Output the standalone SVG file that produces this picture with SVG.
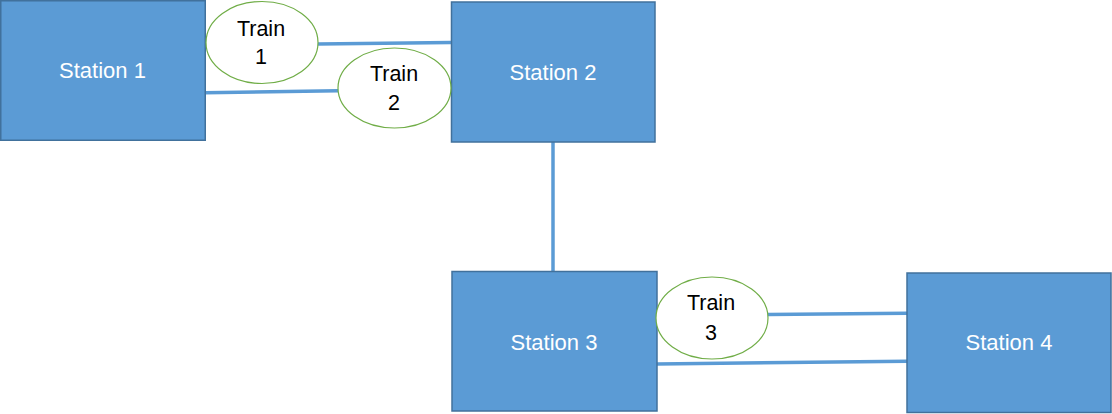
<svg xmlns="http://www.w3.org/2000/svg" width="1112" height="414" viewBox="0 0 1112 414">
  <style>
    .station rect { fill: #5b9bd5; stroke: #41719c; stroke-width: 1.5; }
    .station text { fill: #ffffff; font-family: "Liberation Sans", Arial, sans-serif; font-size: 22px; text-anchor: middle; }
    .train ellipse { fill: #ffffff; stroke: #70ad47; stroke-width: 1.2; }
    .train text { fill: #000000; font-family: "Liberation Sans", Arial, sans-serif; font-size: 21.5px; text-anchor: middle; }
    .track { stroke: #5b9bd5; stroke-width: 3.5; fill: none; }
  </style>

  <!-- tracks between stations -->
  <g id="connectors">
    <line class="track" x1="318" y1="44" x2="451" y2="42.5"/>
    <line class="track" x1="205" y1="92.7" x2="338" y2="90.7"/>
    <line class="track" x1="553" y1="142" x2="553" y2="271"/>
    <line class="track" x1="768" y1="314.5" x2="907" y2="313.3"/>
    <line class="track" x1="657" y1="364" x2="907" y2="361.3"/>
  </g>

  <g id="station1" class="station">
    <rect x="0.75" y="0.75" width="204.5" height="139.5"/>
    <text x="102.5" y="78">Station 1</text>
  </g>
  <g id="station2" class="station">
    <rect x="451.5" y="2" width="203.5" height="140"/>
    <text x="553" y="80">Station 2</text>
  </g>
  <g id="station3" class="station">
    <rect x="452" y="271.5" width="205" height="139.5"/>
    <text x="554" y="349.5">Station 3</text>
  </g>
  <g id="station4" class="station">
    <rect x="907" y="273" width="204" height="139.5"/>
    <text x="1009" y="350">Station 4</text>
  </g>

  <g id="train1" class="train">
    <ellipse cx="262" cy="42.5" rx="56" ry="41"/>
    <text x="261" y="35.5">Train</text>
    <text x="261" y="63.5">1</text>
  </g>
  <g id="train2" class="train">
    <ellipse cx="394.5" cy="88" rx="56.5" ry="40"/>
    <text x="394" y="81">Train</text>
    <text x="394" y="110">2</text>
  </g>
  <g id="train3" class="train">
    <ellipse cx="712" cy="318" rx="56" ry="41"/>
    <text x="711" y="310">Train</text>
    <text x="711" y="339.5">3</text>
  </g>
</svg>
